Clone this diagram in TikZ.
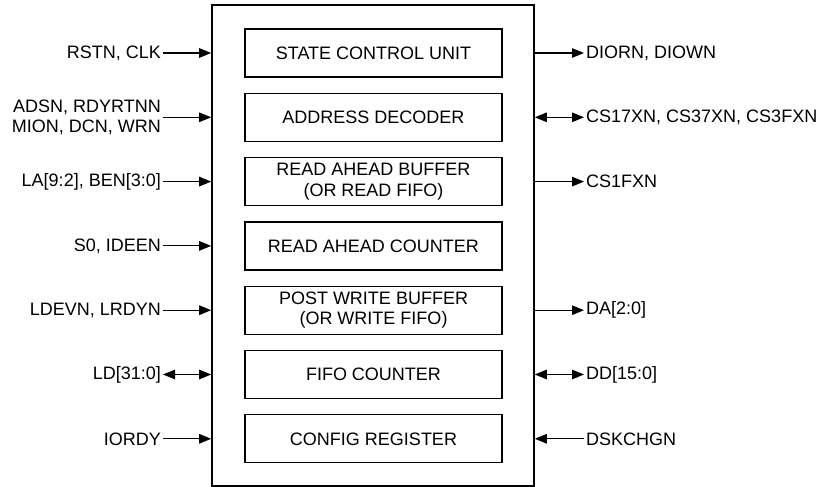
\documentclass[tikz,border=0pt]{standalone}
\usepackage{fontspec}
\setmainfont{Liberation Sans}
\usetikzlibrary{arrows.meta}

\begin{document}
\begin{tikzpicture}[x=1pt, y=-1pt,
font=\fontsize{18}{20.5}\selectfont,
block/.style={draw, line width=1.3pt, minimum width=257pt, minimum height=48pt, align=center, inner sep=0pt},
sigin/.style={anchor=east, inner sep=2pt, align=right},
sigout/.style={anchor=west, inner sep=2pt, align=left},
link/.style={black, line width=1.1pt, draw},
>={Triangle[length=12pt,width=9.5pt]}
]
\useasboundingbox (0,0) rectangle (817,487);
\node[draw, line width=1.6pt, minimum width=322pt, minimum height=481pt] (chip) at (373,245.5) {};

\node[block] (scu) at (373.5,53) {STATE CONTROL UNIT};
\node[block] (adec) at (373.5,117.3) {ADDRESS DECODER};
\node[block] (rbuf) at (373.5,181.6) {READ AHEAD BUFFER\\(OR READ FIFO)};
\node[block] (rcnt) at (373.5,245.9) {READ AHEAD COUNTER};
\node[block] (wbuf) at (373.5,310.2) {POST WRITE BUFFER\\(OR WRITE FIFO)};
\node[block] (fcnt) at (373.5,374.5) {FIFO COUNTER};
\node[block] (creg) at (373.5,438.8) {CONFIG REGISTER};

\node[sigin] (rstn) at (163,0 |- scu) {RSTN, CLK};
\node[sigin] (adsn) at (163,0 |- adec) {ADSN, RDYRTNN\\MION, DCN, WRN};
\node[sigin] (la) at (163,0 |- rbuf) {LA[9:2], BEN[3:0]};
\node[sigin] (sz) at (163,0 |- rcnt) {S0, IDEEN};
\node[sigin] (ldevn) at (163,0 |- wbuf) {LDEVN, LRDYN};
\node[sigin] (ld) at (163,0 |- fcnt) {LD[31:0]};
\node[sigin] (iordy) at (163,0 |- creg) {IORDY};

\node[sigout] (diorn) at (584,0 |- scu) {DIORN, DIOWN};
\node[sigout] (csx) at (584,0 |- adec) {CS17XN, CS37XN, CS3FXN};
\node[sigout] (cs1) at (584,0 |- rbuf) {CS1FXN};
\node[sigout] (da) at (584,0 |- wbuf) {DA[2:0]};
\node[sigout] (dd) at (584,0 |- fcnt) {DD[15:0]};
\node[sigout] (dsk) at (584,0 |- creg) {DSKCHGN};

\draw[link, ->] (rstn) -- (rstn -| chip.west);
\draw[link, ->] (adsn) -- (adsn -| chip.west);
\draw[link, ->] (la) -- (la -| chip.west);
\draw[link, ->] (sz) -- (sz -| chip.west);
\draw[link, ->] (ldevn) -- (ldevn -| chip.west);
\draw[link, <->] (ld) -- (ld -| chip.west);
\draw[link, ->] (iordy) -- (iordy -| chip.west);

\draw[link, ->] (diorn -| chip.east) -- (diorn);
\draw[link, <->] (csx -| chip.east) -- (csx);
\draw[link, ->] (cs1 -| chip.east) -- (cs1);
\draw[link, ->] (da -| chip.east) -- (da);
\draw[link, <->] (dd -| chip.east) -- (dd);
\draw[link, ->] (dsk) -- (dsk -| chip.east);
\end{tikzpicture}
\end{document}
